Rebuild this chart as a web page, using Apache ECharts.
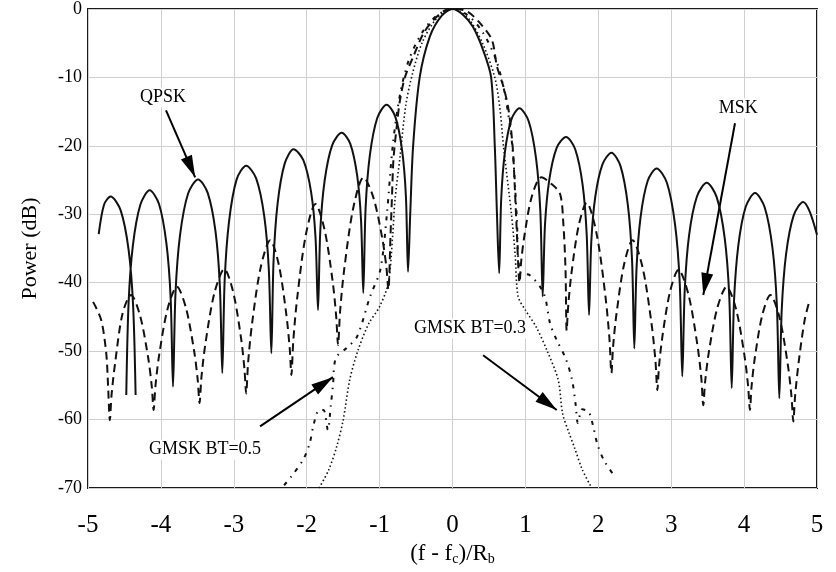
<!DOCTYPE html>
<html>
<head>
<meta charset="utf-8">
<script src="https://cdn.jsdelivr.net/npm/echarts@6/dist/echarts.min.js"></script>
<style>
html, body { margin: 0; padding: 0; background: #fff; }
#chart { width: 836px; height: 572px; }
</style>
</head>
<body>
<div id="chart"></div>
<script>
// spectra, [ (f-fc)/Rb , power dB ]
var qpskPoints = [
    [-4.853,-32.9],[-4.78,-28.6],[-4.69,-27.4],[-4.553,-29.4],[-4.443,-35.2],[-4.381,-43.4],[-4.347,-56.4],
    ['-','-'],
    [-4.475,-56.4],[-4.443,-42.9],[-4.385,-34.6],[-4.282,-28.6],[-4.154,-26.5],[-4.026,-28.5],[-3.924,-34.3],[-3.866,-42.3],[-3.834,-55.2],
    [-3.80,-41.6],[-3.738,-33.1],[-3.628,-27.0],[-3.49,-24.9],[-3.357,-26.9],[-3.251,-32.5],[-3.191,-40.5],[-3.158,-53.2],
    [-3.125,-39.6],[-3.066,-31.1],[-2.961,-24.9],[-2.83,-22.9],[-2.692,-24.8],[-2.582,-30.3],[-2.52,-38.0],[-2.485,-50.3],
    [-2.455,-36.9],[-2.40,-28.5],[-2.302,-22.6],[-2.18,-20.5],[-2.046,-22.1],[-1.939,-26.8],[-1.879,-33.4],[-1.845,-44.0],
    [-1.813,-32.3],[-1.754,-25.1],[-1.65,-19.9],[-1.52,-18.1],[-1.402,-19.7],[-1.307,-24.4],[-1.254,-31.0],[-1.224,-41.5],
    [-1.192,-29.1],[-1.134,-21.4],[-1.031,-15.9],[-0.903,-14.0],[-0.786,-15.7],[-0.692,-20.6],[-0.639,-27.4],[-0.61,-38.4],
    [-0.58,-30],[-0.54,-20],[-0.45,-10],[-0.31,-4.0],[-0.15,-1.0],[0,0],[0.15,-0.9],[0.28,-2.6],[0.42,-6],[0.53,-10],[0.58,-20],[0.61,-30],[0.64,-38.6],
    [0.668,-27.8],[0.718,-21.0],[0.806,-16.2],[0.917,-14.5],[1.045,-16.4],[1.147,-21.9],[1.205,-29.6],[1.237,-42.0],
    [1.269,-31.5],[1.327,-25.0],[1.429,-20.3],[1.557,-18.7],[1.683,-20.5],[1.785,-25.7],[1.841,-33.0],[1.873,-44.7],
    [1.904,-34.0],[1.959,-27.4],[2.057,-22.7],[2.18,-21.0],[2.306,-23.0],[2.406,-28.7],[2.463,-36.7],[2.494,-49.6],
    [2.525,-37.8],[2.58,-30.4],[2.678,-25.1],[2.80,-23.3],[2.941,-25.4],[3.053,-31.5],[3.117,-40.0],[3.152,-53.7],
    [3.186,-41.0],[3.246,-33.0],[3.353,-27.4],[3.487,-25.4],[3.624,-27.5],[3.734,-33.5],[3.796,-41.9],[3.83,-55.4],
    [3.862,-42.6],[3.92,-34.6],[4.022,-28.9],[4.15,-26.9],[4.283,-29.0],[4.39,-35.0],[4.45,-43.4],[4.483,-56.9],
    [4.516,-44.0],[4.575,-35.9],[4.679,-30.2],[4.81,-28.2],[4.90,-29.6],[5.0,-33.0]
];

var mskPoints = [
    [-4.93,-42.8],[-4.82,-45.4],[-4.75,-50.3],[-4.725,-55],[-4.70,-60.1],
    [-4.677,-56.4],[-4.63,-51.9],[-4.526,-44.5],[-4.41,-41.8],[-4.286,-44.8],[-4.174,-51.0],[-4.125,-55.2],[-4.10,-58.6],
    [-4.074,-55.0],[-4.023,-50.5],[-3.908,-43.8],[-3.78,-40.6],[-3.656,-43.7],[-3.544,-50.0],[-3.495,-54.2],[-3.47,-57.6],
    [-3.443,-53.7],[-3.388,-48.8],[-3.266,-41.5],[-3.13,-38.0],[-3.01,-41.3],[-2.902,-48.0],[-2.854,-52.6],[-2.83,-56.2],
    [-2.804,-51.7],[-2.751,-46.1],[-2.632,-37.8],[-2.50,-33.8],[-2.384,-37.3],[-2.28,-44.6],[-2.233,-49.6],[-2.21,-53.5],
    [-2.184,-48.5],[-2.131,-42.3],[-2.012,-33.0],[-1.88,-28.5],[-1.756,-32.2],[-1.644,-39.8],[-1.595,-45.0],[-1.57,-49.1],
    [-1.542,-44.2],[-1.486,-38.1],[-1.36,-29.0],[-1.22,-24.6],[-1.084,-27.6],[-0.962,-33.6],[-0.907,-37.7],[-0.88,-41],
    [-0.85,-33],[-0.83,-27.4],[-0.81,-22],[-0.765,-17.2],[-0.72,-13.3],[-0.65,-9.9],[-0.54,-7.0],[-0.40,-3.6],[-0.26,-1.6],[-0.08,-0.1],
    [0.05,0],[0.21,-0.4],[0.38,-2.1],[0.54,-4.5],[0.61,-8.4],[0.70,-11.4],[0.77,-14.8],[0.825,-20.1],[0.85,-25],[0.88,-32],[0.92,-40],
    [0.942,-36.9],[0.987,-33.1],[1.088,-27.4],[1.22,-24.6],[1.35,-25.5],[1.475,-27],[1.52,-31.3],[1.55,-38],[1.566,-47],
    [1.588,-43.3],[1.632,-38.6],[1.73,-31.7],[1.84,-28.3],[1.976,-32.8],[2.098,-42.0],[2.153,-48.2],[2.18,-53.2],
    [2.203,-49.3],[2.25,-44.5],[2.354,-37.3],[2.47,-33.8],[2.606,-37.7],[2.728,-45.8],[2.783,-51.3],[2.81,-55.7],
    [2.833,-52.2],[2.88,-47.8],[2.984,-41.3],[3.10,-38.1],[3.236,-41.7],[3.358,-49.0],[3.413,-53.9],[3.44,-57.9],
    [3.466,-54.4],[3.517,-50.1],[3.632,-43.7],[3.76,-40.6],[3.888,-43.8],[4.003,-50.5],[4.054,-55.0],[4.08,-58.6],
    [4.102,-55.2],[4.147,-51.0],[4.248,-44.8],[4.36,-41.8],[4.486,-45.1],[4.60,-52.0],[4.65,-56.6],[4.675,-60.3],
    [4.70,-56.5],[4.75,-51.5],[4.83,-45.5],[4.90,-42.5]
];

var gmsk05Points = [
    [-2.31,-69.6],[-2.21,-68.3],[-2.05,-65.9],[-1.96,-63.5],[-1.91,-61],[-1.84,-58.7],[-1.77,-58.6],[-1.71,-61.5],
    [-1.67,-58],[-1.64,-55],[-1.60,-51],[-1.45,-49.5],[-1.31,-47.9],[-1.13,-42],[-0.99,-38.1],[-0.90,-30],
    [-0.82,-20],[-0.72,-12.5],[-0.60,-7.5],[-0.42,-3.5],[-0.22,-1],[0,0],
    [0.22,-1],[0.42,-3.5],[0.60,-7.5],[0.72,-12.5],[0.82,-20],[0.88,-30],[0.93,-38.6],[1.06,-38.9],
    [1.25,-41.5],[1.34,-46],[1.43,-48.4],[1.55,-51],[1.64,-54.2],[1.69,-57.9],[1.72,-60.5],[1.78,-58.5],
    [1.87,-58.9],[1.93,-61],[1.99,-63.7],[2.09,-66.2],[2.24,-68.5]
];

var gmsk03Points = [
    [-1.83,-70],[-1.70,-67.4],[-1.59,-64],[-1.50,-60.1],[-1.41,-54.2],[-1.30,-50],[-1.15,-46],[-1.00,-43.5],
    [-0.88,-40],[-0.82,-33],[-0.79,-28],[-0.72,-21.6],[-0.64,-14],[-0.55,-9.5],[-0.42,-5],[-0.25,-1.8],[-0.10,-0.3],[0,0],
    [0.10,-0.3],[0.25,-1.8],[0.42,-5.2],[0.58,-10],[0.65,-14.5],[0.70,-20.1],[0.81,-30.1],[0.86,-36],[0.90,-42],
    [1.00,-44],[1.15,-46.5],[1.30,-50],[1.45,-54.2],[1.51,-59.1],[1.60,-62],[1.67,-64],[1.78,-67.3],[1.90,-69.8]
];

// text label position, arrow start, arrow tip
var annotations = [
    {text: 'QPSK', at: [-3.97, -12.9], from: [-3.93, -14.8], to: [-3.53, -24.6]},
    {text: 'MSK', at: [3.92, -14.5], from: [3.875, -16.7], to: [3.44, -41.8]},
    {text: 'GMSK BT=0.3', at: [0.24, -46.7], from: [0.42, -50.6], to: [1.43, -58.6]},
    {text: 'GMSK BT=0.5', at: [-3.395, -64.4], from: [-2.64, -61.0], to: [-1.64, -53.8]}
];

var serif = '"Liberation Serif", "DejaVu Serif", serif';
// narrow filled head, tip in the middle of the symbol box so it lands on the coord
var arrowHead = 'path://M5,20 L10,40 L0,40 Z M5,0 L5.01,0 L5,0.01 Z';

var chart = echarts.init(document.getElementById('chart'));

var option = {
    animation: false,
    backgroundColor: '#fff',
    grid: {
        left: 88, top: 9, right: 19, bottom: 84,
        show: true,
        borderColor: '#1a1a1a',
        borderWidth: 2
    },
    xAxis: {
        type: 'value',
        min: -5, max: 5, interval: 1,
        name: '(f - f{s|c})/R{s|b}',
        nameLocation: 'middle',
        nameGap: 48,
        nameTextStyle: {
            fontFamily: serif, fontSize: 23, color: '#000',
            rich: {
                s: {fontFamily: serif, fontSize: 14, color: '#000', verticalAlign: 'bottom', padding: [10, 0, 0, 0]}
            }
        },
        axisLine: {show: false},
        axisTick: {show: false},
        axisLabel: {fontFamily: serif, fontSize: 25, color: '#000', margin: 25},
        splitLine: {lineStyle: {color: '#cfcfcf', width: 1}}
    },
    yAxis: {
        type: 'value',
        min: -70, max: 0, interval: 10,
        name: 'Power (dB)',
        nameLocation: 'middle',
        nameGap: 47,
        nameTextStyle: {fontFamily: serif, fontSize: 22, color: '#000'},
        axisLine: {show: false},
        axisTick: {show: false},
        axisLabel: {fontFamily: serif, fontSize: 18, color: '#000', margin: 6},
        splitLine: {lineStyle: {color: '#cfcfcf', width: 1}}
    },
    series: [
        {
            name: 'QPSK', type: 'line', data: qpskPoints, showSymbol: false, connectNulls: false,
            smooth: 0.3,
            lineStyle: {color: '#111', width: 2}, z: 5
        },
        {
            name: 'MSK', type: 'line', data: mskPoints, showSymbol: false,
            smooth: 0.3,
            lineStyle: {color: '#111', width: 2, type: [8, 5]}, z: 4
        },
        {
            name: 'GMSK BT=0.5', type: 'line', data: gmsk05Points, showSymbol: false,
            smooth: 0.3,
            lineStyle: {color: '#111', width: 2, type: [4, 6, 1.5, 6]}, z: 3
        },
        {
            name: 'GMSK BT=0.3', type: 'line', data: gmsk03Points, showSymbol: false,
            smooth: 0.3,
            lineStyle: {color: '#111', width: 1.6, type: [1.5, 2.5]}, z: 3
        },
        {
            name: 'labels', type: 'scatter', symbolSize: 0, silent: true, z: 10,
            itemStyle: {opacity: 1},
            data: annotations.map(function (a) { return {value: a.at, name: a.text}; }),
            label: {
                show: true, position: 'inside', formatter: '{b}',
                fontFamily: serif, fontSize: 18, color: '#000',
                backgroundColor: '#fff', padding: [1, 2]
            },
            markLine: {
                silent: true,
                symbol: ['none', arrowHead],
                symbolSize: [0, 10],
                label: {show: false},
                lineStyle: {color: '#000', width: 2, type: 'solid'},
                data: annotations.map(function (a) {
                    return [
                        {coord: a.from},
                        {coord: a.to, symbol: arrowHead, symbolSize: [12, 44]}
                    ];
                })
            }
        }
    ]
};

chart.setOption(option);
</script>
</body>
</html>
